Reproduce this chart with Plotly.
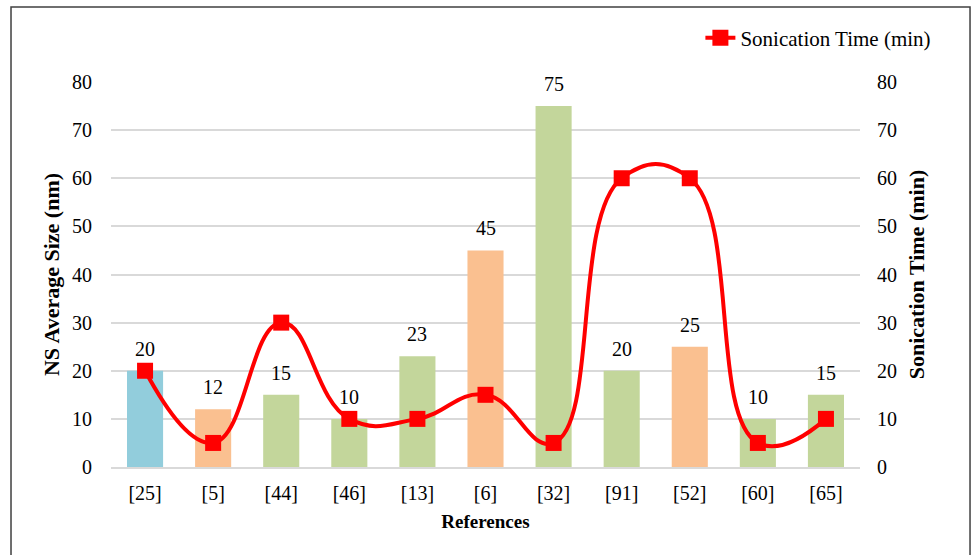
import plotly.graph_objects as go

# Data
references = ["[25]", "[5]", "[44]", "[46]", "[13]", "[6]", "[32]", "[91]", "[52]", "[60]", "[65]"]
ns_size_nm = [20, 12, 15, 10, 23, 45, 75, 20, 25, 10, 15]
sonication_min = [20, 5, 30, 10, 10, 15, 5, 60, 60, 5, 10]
method_group = ["blue", "peach", "green", "green", "green", "peach", "green", "green", "peach", "green", "green"]

palette = {"blue": "#92CDDC", "peach": "#FAC090", "green": "#C3D69B"}
FONT = '"Liberation Serif", "Times New Roman", serif'

fig = go.Figure()

fig.add_trace(go.Bar(
    x=references, y=ns_size_nm,
    marker=dict(color=[palette[g] for g in method_group], line=dict(width=0)),
    width=0.53, showlegend=False, hoverinfo="x+y",
))

fig.add_trace(go.Scatter(
    x=references, y=sonication_min, yaxis="y2",
    mode="lines+markers", name="Sonication Time (min)",
    line=dict(color="#FF0000", width=4, shape="spline", smoothing=1.3),
    marker=dict(symbol="square", size=16, color="#FF0000"),
))

# value labels above each bar
for ref, v in zip(references, ns_size_nm):
    fig.add_annotation(x=ref, y=v, text=str(v), showarrow=False,
                       yanchor="bottom", yshift=9,
                       font=dict(family=FONT, size=20, color="#000000"))

# outer chart frame
fig.add_shape(type="rect", xref="paper", yref="paper",
              x0=-0.1335, x1=1.1469, y0=-0.235, y1=1.1948,
              line=dict(color="#404040", width=1.5), fillcolor="rgba(0,0,0,0)")

tick_font = dict(family=FONT, size=20, color="#000000")
ytitle_font = dict(family=FONT, size=22, color="#000000")
xtitle_font = dict(family=FONT, size=19, color="#000000")

fig.update_layout(
    width=971, height=555,
    margin=dict(l=111, r=111, t=82, b=88),
    paper_bgcolor="white", plot_bgcolor="white",
    bargap=0.47,
    font=dict(family=FONT, size=20, color="#000000"),
    xaxis=dict(
        range=[-0.5, len(references) - 0.5],
        tickfont=tick_font, showgrid=False, showline=True,
        linecolor="#D9D9D9", linewidth=1.5, ticks="", ticklabelstandoff=7,
        title=dict(text="<b>References</b>", font=xtitle_font, standoff=12),
    ),
    yaxis=dict(
        range=[0, 80], dtick=10, tickfont=tick_font,
        showgrid=True, gridcolor="#D9D9D9", gridwidth=1.5,
        zeroline=False, showline=False, ticks="", ticklabelstandoff=18,
        title=dict(text="<b>NS Average Size (nm)</b>", font=ytitle_font, standoff=6),
    ),
    yaxis2=dict(
        range=[0, 80], dtick=10, tickfont=tick_font, overlaying="y", side="right",
        showgrid=False, zeroline=False, showline=False, ticks="", ticklabelstandoff=16,
        title=dict(text="<b>Sonication Time (min)</b>", font=ytitle_font, standoff=12),
    ),
    legend=dict(
        orientation="h", x=1.102, xanchor="right", y=1.114, yanchor="middle",
        font=dict(family=FONT, size=21, color="#000000"), bgcolor="rgba(0,0,0,0)",
    ),
)

fig.write_html("out.html")
